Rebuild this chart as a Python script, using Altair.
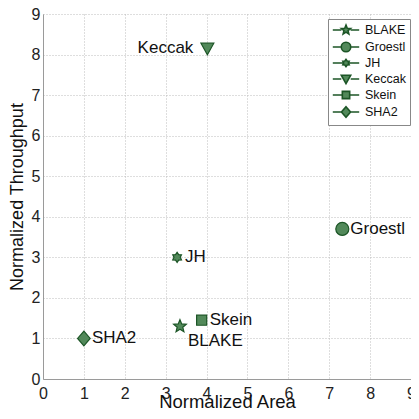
import math
import altair as alt
import pandas as pd

# ---- data ----
names = ["BLAKE", "Groestl", "JH", "Keccak", "Skein", "SHA2"]
area = [3.35, 7.32, 3.28, 4.02, 3.88, 1.0]
throughput = [1.3, 3.7, 3.0, 8.15, 1.45, 1.0]
label_group = ["below", "right", "right", "left", "right", "right"]

df = pd.DataFrame({"name": names, "area": area, "thr": throughput, "grp": label_group})

FILL = "#52895a"
STROKE = "#1c5526"
FONT = "Liberation Sans"


def star(n, r_out, r_in, rot=-math.pi / 2):
    pts = []
    for i in range(2 * n):
        r = r_out if i % 2 == 0 else r_in
        a = rot + i * math.pi / n
        pts.append((r * math.cos(a), r * math.sin(a)))
    return pts


def poly(pts, k=1.0):
    return "M" + "L".join(f"{x*k:.3f},{y*k:.3f}" for x, y in pts) + "Z"


def circle(r, k=1.0):
    r = r * k
    return f"M{r:.3f},0A{r:.3f},{r:.3f},0,1,1,{-r:.3f},0A{r:.3f},{r:.3f},0,1,1,{r:.3f},0Z"


shapes = {
    "BLAKE": ("poly", star(5, 0.95, 0.42)),
    "Groestl": ("circle", 0.93),
    "JH": ("poly", star(6, 0.72, 0.45)),
    "Keccak": ("poly", [(-0.92, -0.75), (0.92, -0.75), (0.0, 0.9)]),
    "Skein": ("poly", [(-0.72, -0.72), (0.72, -0.72), (0.72, 0.72), (-0.72, 0.72)]),
    "SHA2": ("poly", [(0, -1.05), (0.9, 0), (0, 1.05), (-0.9, 0)]),
}


def path_for(name, k=1.0, line=False):
    kind, spec = shapes[name]
    if kind == "circle":
        p = circle(spec, k)
        half = spec * k
    else:
        p = poly(spec, k)
        half = max(abs(x) for x, _ in spec) * k
    if line:
        p = f"M-2.2,0L{-half:.3f},0M{half:.3f},0L2.2,0" + p
    return p


plot_paths = [path_for(n) for n in names]
legend_paths = [path_for(n, k=0.85, line=True) for n in names]

x_enc = alt.X("area:Q", scale=alt.Scale(domain=[0, 9], nice=False),
              axis=alt.Axis(values=list(range(10)), title="Normalized Area",
                            labelFlush=False, labelPadding=6, titlePadding=-9,
                            titleFontSize=18.5))
y_enc = alt.Y("thr:Q", scale=alt.Scale(domain=[0, 9], nice=False),
              axis=alt.Axis(values=list(range(10)), title="Normalized Throughput",
                            labelFlush=False, labelPadding=3, titlePadding=5,
                            titleFontSize=18))

base = alt.Chart(df)

# legend-only layer: no rows survive the filter, the legend comes from the explicit domain
legend_layer = base.transform_filter("false").mark_point(
    filled=False, fill=FILL, stroke=STROKE, strokeWidth=1.6, opacity=1, size=144).encode(
    x=x_enc, y=y_enc,
    shape=alt.Shape("name:N", scale=alt.Scale(domain=names, range=legend_paths),
                    legend=alt.Legend(title=None, orient="none", legendX=285, legendY=5,
                                      symbolStrokeWidth=1.6,
                                      symbolSize=144, symbolOffset=7, labelOffset=12,
                                      rowPadding=1, padding=4,
                                      strokeColor="#888888", fillColor="white",
                                      labelFont=FONT, labelFontSize=12.5, labelColor="#111")),
)

points = base.mark_point(filled=True, fill=FILL, stroke=STROKE, strokeWidth=1.2,
                         opacity=1, size=196).encode(
    x="area:Q", y="thr:Q",
    shape=alt.Shape("name:N", scale=alt.Scale(domain=names, range=plot_paths), legend=None),
)

txt_kw = dict(font=FONT, fontSize=17, color="#111", baseline="middle")
lab_right = base.transform_filter(alt.datum.grp == "right").mark_text(
    align="left", dx=8, **txt_kw).encode(x="area:Q", y="thr:Q", text="name:N")
lab_left = base.transform_filter(alt.datum.grp == "left").mark_text(
    align="right", dx=-14, **txt_kw).encode(x="area:Q", y="thr:Q", text="name:N")
lab_below = base.transform_filter(alt.datum.grp == "below").mark_text(
    align="left", dx=8, dy=15, **txt_kw).encode(x="area:Q", y="thr:Q", text="name:N")

chart = alt.layer(legend_layer, points, lab_right, lab_left, lab_below).resolve_scale(
    shape="independent"
).properties(
    width=368, height=365,
    autosize=alt.AutoSizeParams(type="none"),
    padding={"left": 35, "top": 6, "right": 0, "bottom": 32},
).configure_view(stroke=None).configure_axis(
    grid=True, gridColor="#bdbdbd", gridDash=[1, 2], gridWidth=1,
    domainColor="#9a9a9a", domainWidth=1, ticks=False,
    labelFont=FONT, labelFontSize=16, labelColor="#222",
    titleFont=FONT, titleFontWeight="normal", titleColor="#111",
)

chart.save("out.html", embed_options={"renderer": "svg", "actions": False})
